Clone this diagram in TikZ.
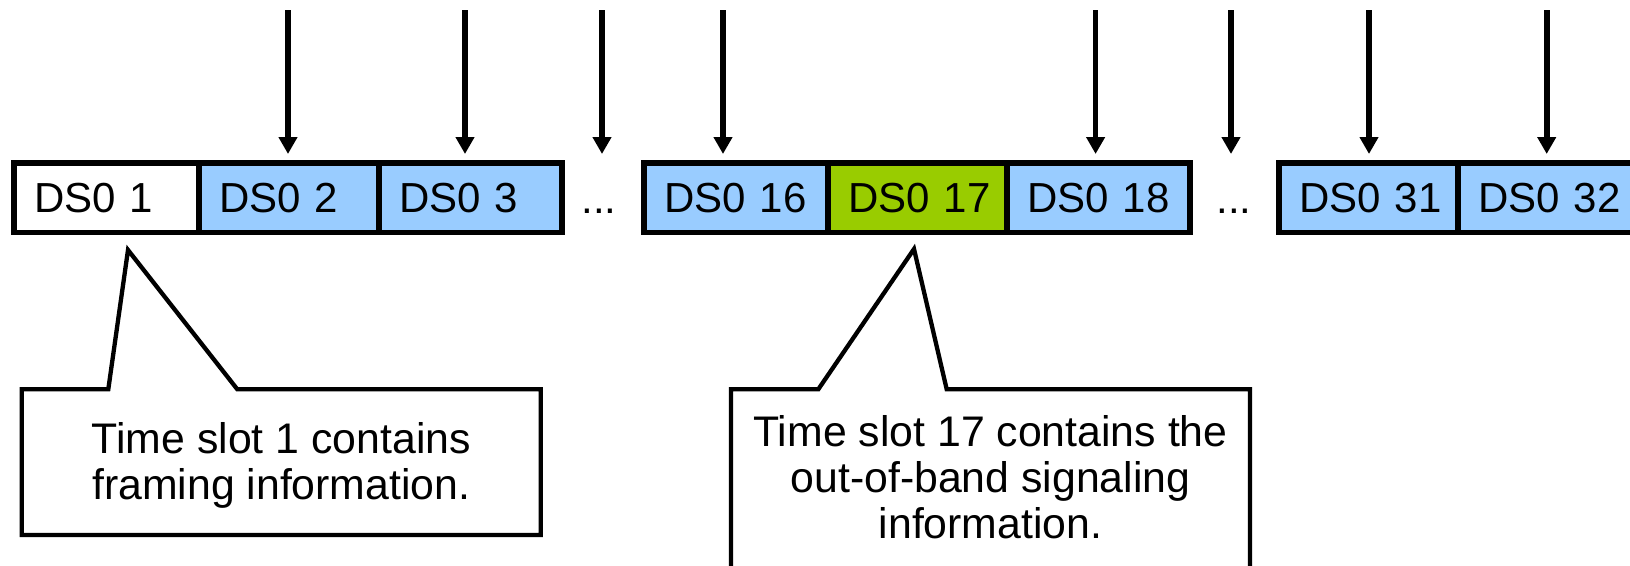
\documentclass[tikz,border=0pt]{standalone}
\usepackage{fontspec}
\setmainfont{Liberation Sans}
\usetikzlibrary{arrows.meta}
\definecolor{slotblue}{RGB}{153,204,255}
\definecolor{slotgreen}{RGB}{153,204,0}
\tikzset{
  txt/.style={font=\fontsize{42}{46}\selectfont, text=black},
  slot/.style={txt, draw=black, line width=5.5pt, minimum height=69.5pt,
    inner xsep=20pt, inner ysep=0pt, outer sep=0pt, align=left, anchor=west},
  blueslot/.style={slot, fill=slotblue},
  feed/.style={line width=5.7pt, -{Triangle[width=18pt,length=17pt]}},
  callout/.style={draw=black, line width=4.3pt, fill=white, line join=miter},
  note/.style={font=\fontsize{42.8}{46}\selectfont, text=black, align=center, inner sep=0pt}
}
\begin{document}
\begin{tikzpicture}[x=1pt,y=-1pt]
\useasboundingbox (0,0) rectangle (1630,565);
\clip (0,0) rectangle (1630,565);

% time slots of the frame (label kept on one line, box width set by text width)
\node[slot, fill=white, text width=145pt] (s1) at (14,197.75) {\mbox{DS0 1}};
\node[blueslot, text width=140pt] (s2) at (199,197.75) {\mbox{DS0 2}};
\node[blueslot, text width=143pt] (s3) at (379,197.75) {\mbox{DS0 3}};
\node[txt, anchor=base] (d1) at (599,213) {...};
\node[blueslot, text width=144pt] (s16) at (644,197.75) {\mbox{DS0 16}};
\node[slot, fill=slotgreen, text width=138.7pt] (s17) at (828.3,197.75) {\mbox{DS0 17}};
\node[blueslot, text width=143pt] (s18) at (1007,197.75) {\mbox{DS0 18}};
\node[txt, anchor=base] (d2) at (1234,213) {...};
\node[blueslot, text width=139pt] (s31) at (1279,197.75) {\mbox{DS0 31}};
\node[blueslot, text width=142pt] (s32) at (1458,197.75) {\mbox{DS0 32}};

% incoming channels
\foreach \n/\x/\t in {a2/288/s2, a3/465/s3, ad1/602/s3, a16/723/s16,
                      a18/1095.6/s18, ad2/1231/s18, a31/1369/s31, a32/1546.7/s32} {
  \coordinate (\n) at (\x,10);
  \draw[feed, shorten >=9pt] (\n) -- (\n |- \t.north);
}

% callout for time slot 1
\coordinate (p1) at (128,250);
\draw[callout] (21.8,389.3) -- (108.3,389.3) -- (p1) -- (237.3,389.3)
  -- (540.8,389.3) -- (540.8,535) -- (21.8,535) -- cycle;
\node[note] (c1) at (281.3,465.6) {Time slot 1 contains\\framing information.};

% callout for time slot 17
\coordinate (p2) at (914,249);
\draw[callout] (731,389.3) -- (818.3,389.3) -- (p2) -- (946.7,389.3)
  -- (1250,389.3) -- (1250,600) -- (731,600) -- cycle;
\node[note] (c2) at (990.5,477) {Time slot 17 contains the\\out-of-band signaling\\information.};
\end{tikzpicture}
\end{document}
